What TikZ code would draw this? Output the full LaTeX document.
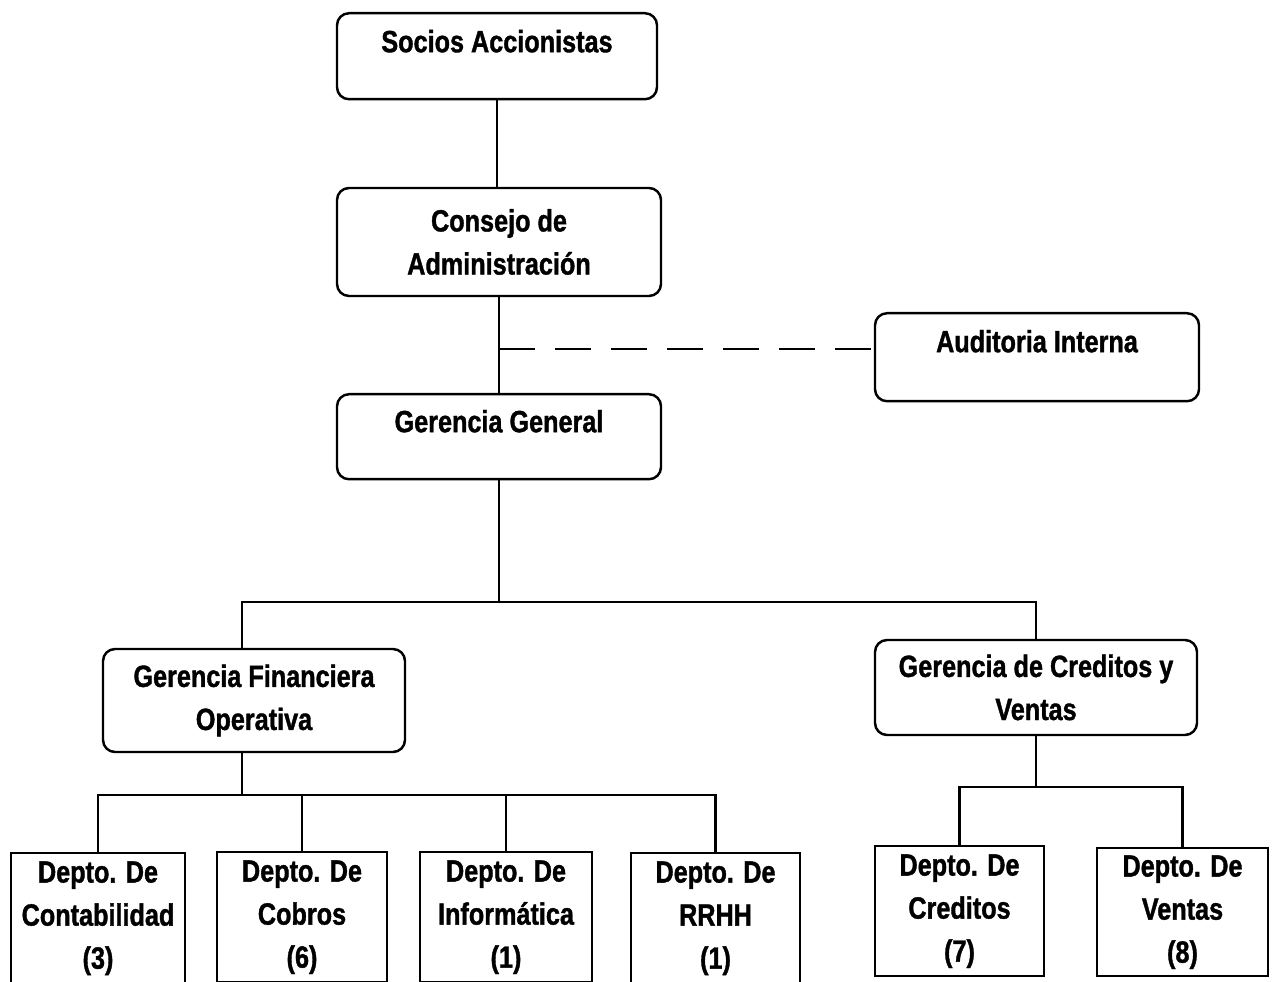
\documentclass[tikz,border=0pt]{standalone}
\usepackage{fontspec}
\setmainfont{Liberation Sans}[FakeStretch=0.82, FakeBold=1.2]
\usetikzlibrary{positioning}

\begin{document}
\begin{tikzpicture}[
    font=\fontsize{17.5}{24.5}\selectfont\bfseries,
    every path/.style={line width=1.4pt},
    roundbox/.style={draw, rounded corners=0.24cm, align=center, inner sep=0pt},
    deptbox/.style={draw, align=center, inner sep=0pt, anchor=north}
  ]
            \useasboundingbox (0,0) rectangle (25.52,19.62);

            \node[roundbox, anchor=north, minimum width=6.4cm, text height=0.78cm, text depth=0.94cm]
                (socios) at (9.94,19.38) {Socios Accionistas};
            \node[roundbox, minimum width=6.48cm, minimum height=2.16cm]
                (consejo) at (9.98,14.78) {Consejo de\\Administración};
            \node[roundbox, anchor=north, minimum width=6.48cm, text height=0.78cm, text depth=0.98cm]
                (auditoria) at (20.74,13.38) {Auditoria Interna};
            \node[roundbox, anchor=north, minimum width=6.48cm, text height=0.76cm, text depth=0.94cm]
                (gerencia) at (9.98,11.76) {Gerencia General};
            \node[roundbox, minimum width=6.04cm, minimum height=2.06cm]
                (financiera) at (5.08,5.61) {Gerencia Financiera\\Operativa};
            \node[roundbox, minimum width=6.44cm, minimum height=1.90cm]
                (creditosventas) at (20.72,5.87) {Gerencia de Creditos y\\Ventas};

            \node[deptbox, minimum width=3.48cm, minimum height=2.6cm]
                (contabilidad) at (1.96,2.58) {Depto. De\\Contabilidad\\(3)};
            \node[deptbox, minimum width=3.40cm, minimum height=2.6cm]
                (cobros) at (6.04,2.60) {Depto. De\\Cobros\\(6)};
            \node[deptbox, minimum width=3.44cm, minimum height=2.6cm]
                (informatica) at (10.12,2.60) {Depto. De\\Informática\\(1)};
            \node[deptbox, minimum width=3.38cm, minimum height=2.6cm]
                (rrhh) at (14.31,2.58) {Depto. De\\RRHH\\(1)};
            \node[deptbox, minimum width=3.38cm, minimum height=2.6cm]
                (creditos) at (19.19,2.72) {Depto. De\\Creditos\\(7)};
            \node[deptbox, minimum width=3.42cm, minimum height=2.56cm]
                (ventas) at (23.65,2.68) {Depto. De\\Ventas\\(8)};

            \coordinate (staff) at (9.98,12.64);
            \coordinate (bus) at (9.98,7.58);
            \coordinate (busleft) at (4.84,3.72);
            \coordinate (busright) at (20.72,3.88);

            \draw (socios.south) -- (socios.south |- consejo.north);
            \draw (consejo.south) -- (gerencia.north);
            \draw[dash pattern=on 0.72cm off 0.4cm] (staff) -- (staff -| auditoria.west);

            \draw (gerencia.south) -- (bus);
            \draw ([xshift=-0.24cm]financiera.north) |- (bus) -| (creditosventas.north);

            \draw ([xshift=-0.24cm]financiera.south) -- (busleft);
            \draw (contabilidad.north) |- (busleft) -| (rrhh.north);
            \draw (cobros.north) -- (cobros.north |- busleft);
            \draw (informatica.north) -- (informatica.north |- busleft);

            \draw (creditosventas.south) -- (busright);
            \draw (creditos.north) |- (busright) -| (ventas.north);
        \end{tikzpicture}
\end{document}
